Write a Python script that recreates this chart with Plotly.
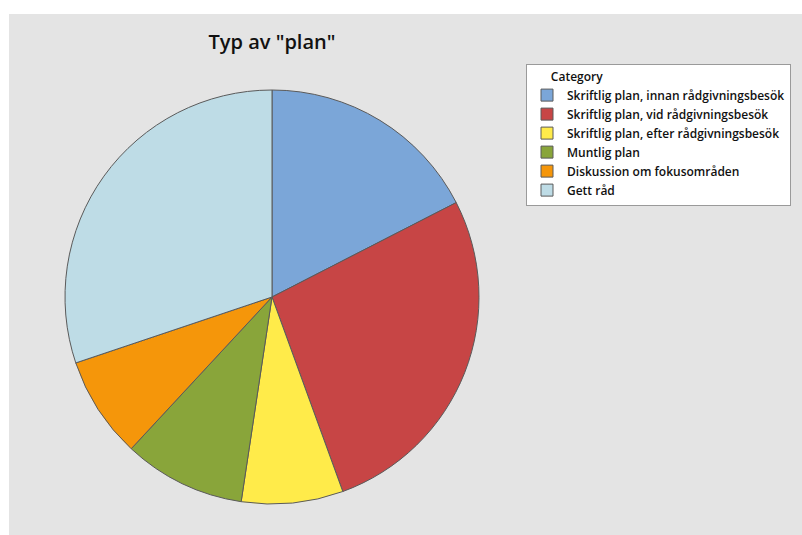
import plotly.graph_objects as go

categories = [
    "Skriftlig plan, innan rådgivningsbesök",
    "Skriftlig plan, vid rådgivningsbesök",
    "Skriftlig plan, efter rådgivningsbesök",
    "Muntlig plan",
    "Diskussion om fokusområden",
    "Gett råd",
]
counts = [11, 17, 5, 6, 5, 19]
colors = ["#7BA6D8", "#C74545", "#FFEB4A", "#89A53A", "#F5960A", "#BEDCE6"]

W, H = 802, 535
cx, cy, r = 272, 297, 207

fig = go.Figure()
fig.add_trace(go.Pie(
    labels=categories,
    values=counts,
    marker=dict(colors=colors, line=dict(color="#5a5a5a", width=1)),
    sort=False,
    direction="clockwise",
    rotation=0,
    textinfo="none",
    hoverinfo="label+value+percent",
    domain=dict(x=[(cx - r) / W, (cx + r) / W], y=[(H - cy - r) / H, (H - cy + r) / H]),
))

fig.update_layout(
    width=W, height=H,
    margin=dict(l=0, r=0, t=0, b=0),
    paper_bgcolor="white",
    plot_bgcolor="#e4e4e4",
    font=dict(family="Open Sans", color="#111111"),
    title=dict(text='Typ av "plan"', x=272 / W, xanchor="center", y=1 - 42 / H, yanchor="middle",
               font=dict(size=20, color="#111111", family="Open Sans", weight=600)),
    shapes=[dict(type="rect", xref="paper", yref="paper", x0=9 / W, x1=1, y0=0, y1=1 - 14 / H,
                 fillcolor="#e4e4e4", line=dict(width=0), layer="below")],
    legend=dict(
        title=dict(text="\u00a0" * 7 + "Category", font=dict(size=12, weight=600)),
        font=dict(size=12, weight=600, color="#111111"),
        x=526 / W, y=1 - 64 / H, xanchor="left", yanchor="top",
        bgcolor="white", bordercolor="#9a9a9a", borderwidth=1,
        traceorder="normal", itemwidth=30,
    ),
)

fig.write_html("out.html")
